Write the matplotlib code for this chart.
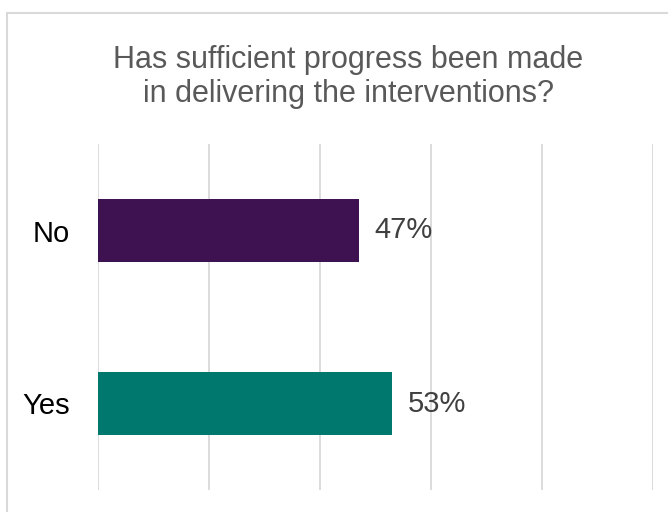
import matplotlib.pyplot as plt
from matplotlib.patches import Rectangle

categories = ["Yes", "No"]
values = [53, 47]
colors = ["#00786E", "#3E1151"]
title = "Has sufficient progress been made\nin delivering the interventions?"

plt.rcParams['font.family'] = ['Liberation Sans', 'DejaVu Sans']

fig = plt.figure(figsize=(6.68, 5.12), dpi=100)
ax = fig.add_axes([98 / 668, 22 / 512, 555 / 668, 346 / 512])

bars = ax.barh(range(len(categories)), values, height=0.36, color=colors, zorder=3)
for b, v in zip(bars, values):
    ax.text(b.get_width() + 2.8, b.get_y() + b.get_height() / 2, f"{v}%",
            va="center", ha="left", fontsize=21, color="#404040", zorder=4)

ax.set_xlim(0, 100)
ax.set_ylim(-0.5, 1.5)
ax.set_xticks(range(0, 101, 20))
ax.set_xticklabels([])
ax.set_yticks(range(len(categories)))
ax.set_yticklabels(categories, fontsize=21, color="#000000")
ax.tick_params(axis="both", length=0, pad=20)
ax.grid(axis="x", color="#d9d9d9", linewidth=1.3, zorder=0)
for s in ax.spines.values():
    s.set_visible(False)

fig.text(0.521, 1 - 77 / 512, title, ha="center", va="center", fontsize=22,
         color="#595959", linespacing=1.15)

fig.patches.append(Rectangle((6.5 / 668, -0.1), 1.2, 1.1 - 13 / 512,
                             transform=fig.transFigure, fill=False,
                             edgecolor="#d9d9d9", linewidth=1.5))

fig.savefig("out.png", dpi=100)
